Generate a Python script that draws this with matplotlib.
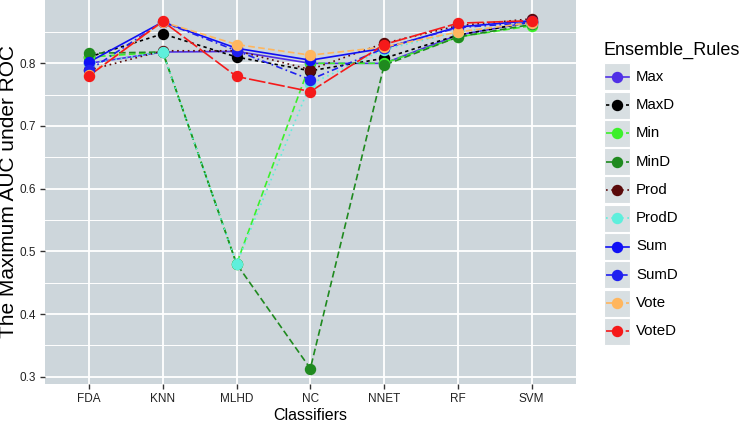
import matplotlib
matplotlib.use("Agg")
import matplotlib.pyplot as plt
from matplotlib.patches import Rectangle
from matplotlib.lines import Line2D

plt.rcParams['font.family'] = ['Liberation Sans', 'DejaVu Sans']

classifiers = ["FDA", "KNN", "MLHD", "NC", "NNET", "RF", "SVM"]
rules = ["Max", "MaxD", "Min", "MinD", "Prod", "ProdD", "Sum", "SumD", "Vote", "VoteD"]

Max   = [0.800, 0.818, 0.819, 0.800, 0.800, 0.845, 0.866]
MaxD  = [0.810, 0.847, 0.810, 0.788, 0.808, 0.845, 0.866]
Min   = [0.810, 0.818, 0.480, 0.800, 0.800, 0.842, 0.860]
MinD  = [0.816, 0.818, 0.480, 0.313, 0.797, 0.842, 0.862]
Prod  = [0.789, 0.820, 0.820, 0.790, 0.832, 0.860, 0.871]
ProdD = [0.800, 0.818, 0.480, 0.767, 0.822, 0.850, 0.865]
Sum   = [0.802, 0.866, 0.824, 0.805, 0.824, 0.858, 0.868]
SumD  = [0.789, 0.866, 0.820, 0.774, 0.824, 0.857, 0.865]
Vote  = [0.781, 0.866, 0.830, 0.813, 0.826, 0.850, 0.865]
VoteD = [0.780, 0.867, 0.779, 0.755, 0.830, 0.864, 0.868]

values = [Max, MaxD, Min, MinD, Prod, ProdD, Sum, SumD, Vote, VoteD]

colors = ['#5030E6', '#000000', '#3CF02A', '#1F8A1F', '#5A0A0A',
          '#5EEFDC', '#1010F5', '#2020F0', '#FFB65E', '#F51A1A']
styles = ['-', (0, (2, 2)), (0, (4, 2)), (0, (4, 2)), (0, (1, 2.2)),
          (0, (1, 2.2)), '-', (0, (4, 2, 1, 2)), (0, (4, 2)), (0, (10, 1.8))]

W, H = 742, 426
fig = plt.figure(figsize=(W/100, H/100), dpi=100)
fig.patch.set_facecolor('white')

L, R, T, B = 44.7, 576, 0, 384
ax = fig.add_axes([L/W, 1-B/H, (R-L)/W, (B-T)/H])
ax.set_facecolor('#CDD6DB')

x = list(range(1, len(classifiers)+1))
for v, c, s in zip(values, colors, styles):
    ax.plot(x, v, color=c, linestyle=s, linewidth=1.2, zorder=3)
for v, c in zip(values, colors):
    ax.plot(x, v, linestyle='none', marker='o', markersize=7.2,
            markerfacecolor=c, markeredgecolor=c, zorder=4)

ax.set_xlim(0.4, 7.6)
ax.set_ylim(0.2884, 0.901)
ax.set_xticks(x)
ax.set_xticklabels(classifiers)
yt = [0.3, 0.4, 0.5, 0.6, 0.7, 0.8]
ax.set_yticks(yt)
ax.set_yticklabels([f"{t:.1f}" for t in yt])
ax.set_yticks([0.35, 0.45, 0.55, 0.65, 0.75, 0.85], minor=True)
ax.grid(which='major', color='white', linewidth=1.3, zorder=1)
ax.grid(which='minor', axis='y', color='white', linewidth=0.7, zorder=1)
ax.set_axisbelow(True)
for sp in ax.spines.values():
    sp.set_visible(False)
ax.tick_params(axis='both', which='major', length=3.5, width=1, color='#333333',
               labelsize=8.5, labelcolor='#222222', pad=3)
ax.tick_params(axis='y', which='minor', length=0)
ax.set_xlabel("Classifiers", fontsize=11.5, labelpad=2)
ax.set_ylabel("The Maximum AUC under ROC", fontsize=15)
ax.yaxis.set_label_coords((18 - L) / (R - L), 0.5)

# legend drawn manually
lax = fig.add_axes([596/W, 0, (W-596)/W, 1])
lax.set_xlim(596, W)
lax.set_ylim(H, 0)
lax.axis('off')
lax.text(603, 50, "Ensemble_Rules", fontsize=13, va='center', ha='left')
for i, (name, c, s) in enumerate(zip(rules, colors, styles)):
    cy = 76.7 + 28.3*i
    lax.add_patch(Rectangle((604, cy-13.5), 26, 27, facecolor='#D8DFE2',
                            edgecolor='white', linewidth=0.8))
    lax.add_line(Line2D([605.5, 628.5], [cy, cy], color=c, linestyle=s, linewidth=1.2))
    lax.plot([617], [cy], marker='o', markersize=7.2, color=c)
    lax.text(636, cy, name, fontsize=10.8, va='center', ha='left')

fig.savefig("out.png", dpi=100)
